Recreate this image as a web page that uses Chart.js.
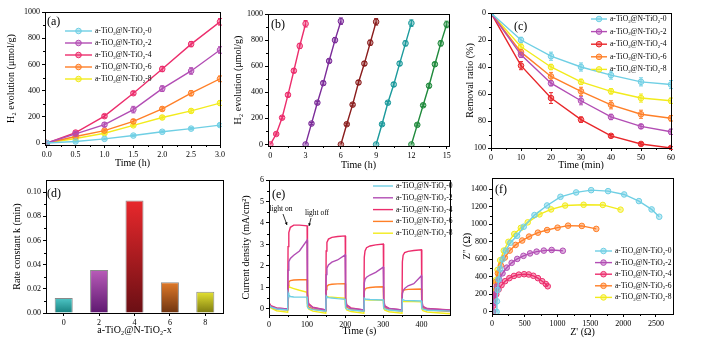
<!DOCTYPE html>
<html>
<head>
<meta charset="utf-8">
<script src="https://cdn.jsdelivr.net/npm/chart.js@4.4.1/dist/chart.umd.min.js"></script>
<style>
  body { margin: 0; background: #fff; width: 706px; height: 341px; position: relative; overflow: hidden; }
  canvas { position: absolute; }
</style>
</head>
<body>
<canvas id="pa"></canvas>
<canvas id="pb"></canvas>
<canvas id="pc"></canvas>
<canvas id="pd"></canvas>
<canvas id="pe"></canvas>
<canvas id="pf"></canvas>
<script>
// ---- data ----
const names = ['a-TiO₂@N-TiO₂-0', 'a-TiO₂@N-TiO₂-2', 'a-TiO₂@N-TiO₂-4', 'a-TiO₂@N-TiO₂-6', 'a-TiO₂@N-TiO₂-8'];

// (a) H2 evolution
const aHours = [0, 0.5, 1, 1.5, 2, 2.5, 3];
const aH2_0 = [0, 12, 32, 57, 86, 110, 137];
const aH2_2 = [0, 70, 140, 255, 415, 550, 710];
const aH2_4 = [0, 80, 205, 380, 565, 755, 925];
const aH2_6 = [0, 50, 95, 165, 260, 380, 490];
const aH2_8 = [0, 35, 75, 135, 195, 245, 305];
const aErr_0 = [0, 5, 6, 6, 7, 8, 10];
const aErr_2 = [0, 10, 15, 25, 22, 25, 25];
const aErr_4 = [0, 10, 12, 12, 20, 20, 25];
const aErr_6 = [0, 8, 10, 15, 15, 20, 22];
const aErr_8 = [0, 6, 8, 10, 12, 15, 18];
const aXTicks = [0, 0.5, 1, 1.5, 2, 2.5, 3];
const aYTicks = [0, 200, 400, 600, 800, 1000];

// (b) cycling
const bHours = [0, 0.5, 1, 1.5, 2, 2.5, 3];
const bStart = [0, 3, 6, 9, 12];
const bCycle1 = [0, 80, 205, 380, 565, 755, 925];
const bCycle2 = [0, 160, 320, 470, 640, 800, 945];
const bCycle3 = [0, 155, 305, 475, 620, 780, 940];
const bCycle4 = [0, 155, 320, 460, 620, 775, 930];
const bCycle5 = [0, 150, 300, 450, 615, 775, 920];
const bErr = [0, 8, 10, 15, 15, 20, 25];
const bXTicks = [0, 3, 6, 9, 12, 15];
const bYTicks = [0, 200, 400, 600, 800, 1000];

// (c) removal ratio
const cMinutes = [0, 10, 20, 30, 40, 50, 60];
const cRem_0 = [0, 20, 32, 40, 46, 51, 53];
const cRem_2 = [0, 31, 52, 65, 77, 84, 88];
const cRem_4 = [0, 39, 63, 79, 91, 97, 100];
const cRem_6 = [0, 29, 47, 58, 68, 75, 78];
const cRem_8 = [0, 25, 40, 51, 58, 63, 65];
const cErr_0 = [0, 2, 3, 3, 3, 3, 3];
const cErr_2 = [0, 2, 2, 3, 2, 1.5, 2];
const cErr_4 = [0, 3, 4, 2, 1, 1, 1];
const cErr_6 = [0, 2, 3, 3, 3, 3, 2];
const cErr_8 = [0, 2, 2, 2, 2, 3, 2];
const cXTicks = [0, 10, 20, 30, 40, 50, 60];
const cYTicks = [0, 20, 40, 60, 80, 100];

// (d) rate constant
const dLabels = ['0', '2', '4', '6', '8'];
const dRate = [0.0125, 0.0355, 0.093, 0.0255, 0.0175];
const dYTicks = [0, 0.02, 0.04, 0.06, 0.08, 0.10];

// (e) photocurrent
const eTime = [0, 5, 20, 49, 50, 52, 56, 65, 80, 100, 101, 104, 115, 149, 150, 152, 156, 165, 180, 200, 201, 204, 215, 249,
  250, 252, 256, 265, 280, 300, 301, 304, 315, 349, 350, 352, 356, 365, 380, 400, 401, 404, 415, 475];
const eCur_0 = [0.20, 0.08, 0.00, -0.05, 0.75, 0.65, 0.58, 0.56, 0.55, 0.55, 0.10, 0.03, -0.03, -0.10, 0.60, 0.56, 0.53, 0.51, 0.48, 0.45, 0.06, 0.00, -0.05, -0.10,
  0.50, 0.47, 0.45, 0.44, 0.43, 0.42, 0.05, 0.00, -0.05, -0.10, 0.45, 0.42, 0.40, 0.39, 0.38, 0.37, 0.04, -0.01, -0.06, -0.10];
const eCur_2 = [0.25, 0.12, 0.04, 0.00, 1.80, 2.20, 2.35, 2.50, 2.70, 3.20, 0.50, 0.20, 0.06, -0.05, 1.60, 1.90, 2.05, 2.18, 2.28, 2.52, 0.40, 0.15, 0.03, -0.05,
  1.20, 1.38, 1.48, 1.58, 1.70, 1.95, 0.35, 0.12, 0.02, -0.05, 0.70, 0.85, 0.95, 1.08, 1.18, 1.55, 0.30, 0.10, 0.01, -0.06];
const eCur_4 = [0.30, 0.15, 0.05, 0.00, 2.90, 3.55, 3.80, 3.90, 3.90, 3.87, 0.70, 0.25, 0.08, -0.05, 2.70, 3.10, 3.25, 3.33, 3.37, 3.40, 0.50, 0.20, 0.05, -0.05,
  2.40, 2.70, 2.85, 2.93, 2.98, 3.02, 0.45, 0.15, 0.03, -0.05, 2.20, 2.50, 2.62, 2.68, 2.72, 2.75, 0.40, 0.12, 0.02, -0.05];
const eCur_6 = [0.20, 0.10, 0.00, -0.05, 1.10, 1.25, 1.32, 1.35, 1.36, 1.36, 0.25, 0.10, 0.00, -0.10, 0.90, 1.05, 1.12, 1.15, 1.17, 1.18, 0.20, 0.08, -0.02, -0.10,
  0.80, 0.92, 0.97, 1.00, 1.02, 1.03, 0.18, 0.06, -0.03, -0.10, 0.75, 0.85, 0.89, 0.91, 0.92, 0.93, 0.15, 0.05, -0.04, -0.12];
const eCur_8 = [0.30, 0.05, -0.08, -0.15, 1.10, 1.05, 1.00, 0.95, 0.87, 0.78, 0.10, 0.00, -0.10, -0.20, 0.60, 0.58, 0.56, 0.55, 0.53, 0.50, 0.05, -0.05, -0.12, -0.20,
  0.45, 0.44, 0.43, 0.42, 0.41, 0.40, 0.02, -0.06, -0.13, -0.20, 0.36, 0.35, 0.35, 0.34, 0.34, 0.33, 0.00, -0.08, -0.14, -0.22];
const eXTicks = [0, 100, 200, 300, 400];
const eYTicks = [0, 1, 2, 3, 4, 5, 6];

// (f) Nyquist
const fRe_0 = [70, 75, 85, 100, 125, 160, 210, 280, 382, 484, 648, 840, 1044, 1283, 1512, 1770, 2015, 2240, 2434, 2550];
const fIm_0 = [0, 120, 250, 370, 490, 600, 700, 790, 870, 973, 1106, 1216, 1315, 1365, 1391, 1380, 1342, 1266, 1171, 1087];
const fRe_2 = [10, 22, 40, 70, 110, 160, 225, 300, 385, 480, 580, 680, 790, 910, 1080];
const fIm_2 = [0, 100, 200, 290, 370, 440, 505, 560, 605, 640, 668, 688, 700, 707, 698];
const fRe_4 = [10, 20, 38, 65, 100, 145, 200, 265, 335, 410, 490, 560, 630, 700, 765, 820, 850];
const fIm_4 = [0, 70, 140, 200, 255, 305, 350, 385, 410, 425, 430, 427, 412, 385, 350, 318, 292];
const fRe_6 = [10, 18, 32, 55, 90, 135, 195, 270, 360, 460, 565, 700, 840, 1000, 1160, 1370, 1590];
const fIm_6 = [0, 120, 230, 340, 440, 530, 620, 700, 765, 815, 860, 905, 935, 962, 985, 982, 948];
const fRe_8 = [15, 22, 35, 55, 85, 125, 180, 250, 340, 440, 545, 724, 901, 1115, 1397, 1690, 1960];
const fIm_8 = [0, 120, 240, 360, 480, 590, 700, 800, 890, 960, 1023, 1114, 1171, 1215, 1224, 1222, 1168];
const fXTicks = [0, 500, 1000, 1500, 2000, 2500];
const fYTicks = [0, 200, 400, 600, 800, 1000, 1200, 1400];

// ---- style ----
const SERIF = "'Liberation Serif', 'Times New Roman', serif";
const C_CYAN = '#6fcfe4', C_PURPLE = '#b24db4', C_PINK = '#ec2d6c', C_RED = '#e8262a', C_ORANGE = '#ff7f27', C_YELLOW = '#f2eb1c';
const TICK_SIZE = 8, TITLE_SIZE = 10, LEGEND_SIZE = 7.6;

function pts(xs, ys) { return xs.map((x, i) => ({ x: x, y: ys[i] })); }

function fade(hex, a) {
  const n = parseInt(hex.slice(1), 16);
  return `rgba(${n >> 16},${(n >> 8) & 255},${n & 255},${a})`;
}

// text with small lowered "2" for the subscript character
function richText(ctx, text, x, y, size) {
  for (const ch of text) {
    if (ch === '₂') {
      ctx.font = (size * 0.65) + 'px ' + SERIF;
      ctx.fillText('2', x, y + size * 0.3);
      x += ctx.measureText('2').width;
    } else {
      ctx.font = size + 'px ' + SERIF;
      ctx.fillText(ch, x, y);
      x += ctx.measureText(ch).width;
    }
  }
}

function lineSet(label, color, data, extra) {
  return Object.assign({
    label: label, data: data, showLine: true, borderColor: color, backgroundColor: fade(color, 0.45),
    borderWidth: 1.4, pointRadius: 2.8, pointBorderWidth: 1, pointBorderColor: color, tension: 0
  }, extra || {});
}

function scale(pos, o) {
  const ticks = { color: '#000', font: { family: SERIF, size: TICK_SIZE }, padding: 2, maxRotation: 0, autoSkip: false };
  if (o.type !== 'category') ticks.callback = o.fmt ? (v => o.fmt(v)) : (v => String(v));
  const s = {
    type: o.type || 'linear', position: pos, reverse: !!o.reverse, offset: !!o.offset,
    minor: o.minor !== false,
    border: { color: '#000', width: 1 },
    grid: { drawOnChartArea: false, color: '#000', tickLength: 3, tickWidth: 1, offset: false },
    ticks: ticks,
    title: { display: true, text: o.title, color: '#000', font: { family: SERIF, size: TITLE_SIZE }, padding: 0 }
  };
  if (o.min !== undefined) s.min = o.min;
  if (o.max !== undefined) s.max = o.max;
  if (o.ticks) s.afterBuildTicks = sc => { sc.ticks = o.ticks.map(v => ({ value: v })); };
  return s;
}

// frame, minor ticks, panel label
const framePlugin = {
  id: 'frame',
  afterDraw(chart, args, opts) {
    const a = chart.chartArea, ctx = chart.ctx;
    ctx.save();
    ctx.strokeStyle = '#000'; ctx.lineWidth = 1;
    ctx.strokeRect(Math.round(a.left) + 0.5, Math.round(a.top) + 0.5, Math.round(a.right - a.left), Math.round(a.bottom - a.top));
    // minor ticks
    Object.values(chart.scales).forEach(s => {
      if (s.type !== 'linear' || !s.options.minor) return;
      const t = s.ticks.map(k => k.value);
      ctx.beginPath();
      for (let i = 0; i < t.length - 1; i++) {
        const p = Math.round(s.getPixelForValue((t[i] + t[i + 1]) / 2)) + 0.5;
        if (s.isHorizontal()) { ctx.moveTo(p, a.bottom); ctx.lineTo(p, a.bottom + 2); }
        else { ctx.moveTo(a.left, p); ctx.lineTo(a.left - 2, p); }
      }
      ctx.stroke();
    });
    if (opts.label) {
      ctx.fillStyle = '#000';
      ctx.font = '12px ' + SERIF;
      ctx.textBaseline = 'alphabetic';
      ctx.fillText(opts.label, a.left + opts.lx, a.top + opts.ly);
    }
    ctx.restore();
  }
};

const errorPlugin = {
  id: 'errbars',
  beforeDatasetsDraw(chart) {
    const ctx = chart.ctx;
    chart.data.datasets.forEach((ds, i) => {
      if (!ds.errors) return;
      const meta = chart.getDatasetMeta(i);
      const ys = chart.scales[meta.yAxisID];
      ctx.save();
      ctx.strokeStyle = ds.borderColor; ctx.lineWidth = 1;
      meta.data.forEach((pt, j) => {
        const e = ds.errors[j];
        if (!e) return;
        const v = ds.data[j].y;
        const y1 = ys.getPixelForValue(v - e), y2 = ys.getPixelForValue(v + e);
        ctx.beginPath();
        ctx.moveTo(pt.x, y1); ctx.lineTo(pt.x, y2);
        ctx.moveTo(pt.x - 2, y1); ctx.lineTo(pt.x + 2, y1);
        ctx.moveTo(pt.x - 2, y2); ctx.lineTo(pt.x + 2, y2);
        ctx.stroke();
      });
      ctx.restore();
    });
  }
};

const legendPlugin = {
  id: 'inlegend',
  afterDraw(chart, args, opts) {
    if (opts.x === undefined) return;
    const a = chart.chartArea, ctx = chart.ctx;
    ctx.save();
    ctx.textBaseline = 'middle';
    chart.data.datasets.forEach((ds, i) => {
      const y = a.top + opts.y + i * opts.dy;
      const x0 = a.left + opts.x, x1 = x0 + opts.len;
      ctx.strokeStyle = ds.borderColor; ctx.lineWidth = 1.4;
      ctx.beginPath(); ctx.moveTo(x0, y); ctx.lineTo(x1, y); ctx.stroke();
      if (opts.marker) {
        ctx.fillStyle = ds.backgroundColor; ctx.lineWidth = 1;
        ctx.beginPath(); ctx.arc((x0 + x1) / 2, y, 2.8, 0, Math.PI * 2); ctx.fill(); ctx.stroke();
      }
      ctx.fillStyle = '#000';
      richText(ctx, ds.label, x1 + 3, y, LEGEND_SIZE);
    });
    ctx.restore();
  }
};

const annotePlugin = {
  id: 'lightNotes',
  afterDraw(chart, args, opts) {
    if (!opts.on) return;
    const a = chart.chartArea, ctx = chart.ctx;
    ctx.save();
    ctx.fillStyle = '#000'; ctx.strokeStyle = '#000'; ctx.lineWidth = 0.8;
    ctx.font = '7.5px ' + SERIF; ctx.textAlign = 'center'; ctx.textBaseline = 'middle';
    ctx.fillText('light on', a.left + 12, a.top + 29);
    ctx.fillText('light off', a.left + 48, a.top + 33);
    const arrow = (x0, y0, x1, y1) => {
      ctx.beginPath(); ctx.moveTo(a.left + x0, a.top + y0); ctx.lineTo(a.left + x1, a.top + y1); ctx.stroke();
      const ang = Math.atan2(y1 - y0, x1 - x0);
      ctx.beginPath();
      ctx.moveTo(a.left + x1, a.top + y1);
      ctx.lineTo(a.left + x1 - 3 * Math.cos(ang - 0.5), a.top + y1 - 3 * Math.sin(ang - 0.5));
      ctx.lineTo(a.left + x1 - 3 * Math.cos(ang + 0.5), a.top + y1 - 3 * Math.sin(ang + 0.5));
      ctx.closePath(); ctx.fill();
    };
    arrow(14, 34, 18, 45);
    arrow(42, 38, 40, 46);
    ctx.restore();
  }
};

Chart.register(framePlugin, errorPlugin, legendPlugin, annotePlugin);

function panel(id, box, type, data, scales, plugins) {
  const lh = TITLE_SIZE * 1.2;
  const left = Math.round(box.yTitleX - lh / 2);
  const top = box.T - 10;
  const right = box.R + 14;
  const bottom = Math.round(box.xTitleY + lh / 2);
  const cv = document.getElementById(id);
  cv.width = right - left; cv.height = bottom - top;
  cv.style.left = left + 'px'; cv.style.top = top + 'px';
  scales.y.afterFit = s => { s.width = box.L - left; };
  scales.x.afterFit = s => { s.height = bottom - box.B; };
  return new Chart(cv, {
    type: type,
    data: data,
    options: {
      responsive: false, animation: false, devicePixelRatio: 1,
      layout: { padding: { left: 0, top: 10, right: 14, bottom: 0 } },
      scales: scales,
      plugins: Object.assign({ legend: { display: false }, tooltip: { enabled: false } }, plugins)
    }
  });
}

// (a)
panel('pa', { L: 45, T: 12, R: 220, B: 145, yTitleX: 11, xTitleY: 163 }, 'scatter', {
  datasets: [
    lineSet(names[0], C_CYAN, pts(aHours, aH2_0), { errors: aErr_0 }),
    lineSet(names[1], C_PURPLE, pts(aHours, aH2_2), { errors: aErr_2 }),
    lineSet(names[2], C_PINK, pts(aHours, aH2_4), { errors: aErr_4 }),
    lineSet(names[3], C_ORANGE, pts(aHours, aH2_6), { errors: aErr_6 }),
    lineSet(names[4], C_YELLOW, pts(aHours, aH2_8), { errors: aErr_8 })
  ]
}, {
  x: scale('bottom', { min: -0.03, max: 3.0, ticks: aXTicks, fmt: v => v.toFixed(1), title: 'Time (h)' }),
  y: scale('left', { min: -15, max: 1000, ticks: aYTicks, title: 'H₂ evolution (μmol/g)' })
}, {
  frame: { label: '(a)', lx: 2, ly: 13 },
  inlegend: { x: 20, y: 19, dy: 12, len: 27, marker: true }
});

// (b)
const bColors = [C_PINK, '#7b2b99', '#8a1c1c', '#1b9a9c', '#1f8a3c'];
const bCycles = [bCycle1, bCycle2, bCycle3, bCycle4, bCycle5];
panel('pb', { L: 268, T: 14, R: 449, B: 146, yTitleX: 238, xTitleY: 165 }, 'scatter', {
  datasets: bCycles.map((c, k) => lineSet('cycle ' + (k + 1), bColors[k],
    pts(bHours.map(h => bStart[k] + h), c), { errors: bErr }))
}, {
  x: scale('bottom', { min: -0.2, max: 15.2, ticks: bXTicks, title: 'Time (h)' }),
  y: scale('left', { min: -12, max: 1000, ticks: bYTicks, title: 'H₂ evolution (μmol/g)' })
}, {
  frame: { label: '(b)', lx: 3, ly: 14 }
});

// (c)
panel('pc', { L: 491, T: 13, R: 671, B: 148, yTitleX: 470, xTitleY: 165 }, 'scatter', {
  datasets: [
    lineSet(names[0], C_CYAN, pts(cMinutes, cRem_0), { errors: cErr_0 }),
    lineSet(names[1], C_PURPLE, pts(cMinutes, cRem_2), { errors: cErr_2 }),
    lineSet(names[2], C_RED, pts(cMinutes, cRem_4), { errors: cErr_4 }),
    lineSet(names[3], C_ORANGE, pts(cMinutes, cRem_6), { errors: cErr_6 }),
    lineSet(names[4], C_YELLOW, pts(cMinutes, cRem_8), { errors: cErr_8 })
  ]
}, {
  x: scale('bottom', { min: 0, max: 60, ticks: cXTicks, title: 'Time (min)' }),
  y: scale('left', { min: 0, max: 100, reverse: true, ticks: cYTicks, title: 'Removal ratio (%)' })
}, {
  frame: { label: '(c)', lx: 23, ly: 17 },
  inlegend: { x: 100, y: 6, dy: 12.6, len: 16, marker: true }
});

// (d)
const dTop = ['#4fc7c7', '#b85cb8', '#e8282c', '#e07a2a', '#e4e232'];
const dBottom = ['#17807f', '#5e1870', '#6a0f14', '#6e3410', '#7c7a10'];
panel('pd', { L: 46, T: 180, R: 223, B: 313, yTitleX: 17, xTitleY: 330 }, 'bar', {
  labels: dLabels,
  datasets: [{
    label: 'k', data: dRate, borderColor: '#8a8a8a', borderWidth: 1,
    barPercentage: 0.51, categoryPercentage: 1,
    backgroundColor: ctx => {
      const ch = ctx.chart, i = ctx.dataIndex;
      if (!ch.chartArea || !ch.scales.y) return dTop[i];
      const yTop = ch.scales.y.getPixelForValue(dRate[i]);
      const g = ch.ctx.createLinearGradient(0, yTop, 0, ch.chartArea.bottom);
      g.addColorStop(0, dTop[i]); g.addColorStop(1, dBottom[i]);
      return g;
    }
  }]
}, {
  x: scale('bottom', { type: 'category', offset: true, minor: false, title: 'a-TiO₂@N-TiO₂-x' }),
  y: scale('left', { min: 0, max: 0.11, ticks: dYTicks, fmt: v => v.toFixed(2), title: 'Rate constant k (min)' })
}, {
  frame: { label: '(d)', lx: 1, ly: 17 }
});

// (e)
const eNoMark = { pointRadius: 0, borderWidth: 1.4 };
panel('pe', { L: 269, T: 180, R: 450, B: 315, yTitleX: 246, xTitleY: 331 }, 'scatter', {
  datasets: [
    lineSet(names[0], C_CYAN, pts(eTime, eCur_0), eNoMark),
    lineSet(names[1], C_PURPLE, pts(eTime, eCur_2), eNoMark),
    lineSet(names[2], C_PINK, pts(eTime, eCur_4), eNoMark),
    lineSet(names[3], C_ORANGE, pts(eTime, eCur_6), eNoMark),
    lineSet(names[4], C_YELLOW, pts(eTime, eCur_8), eNoMark)
  ]
}, {
  x: scale('bottom', { min: 0, max: 475, ticks: eXTicks, title: 'Time (s)' }),
  y: scale('left', { min: -0.28, max: 6, ticks: eYTicks, title: 'Current density (mA/cm²)' })
}, {
  frame: { label: '(e)', lx: 3, ly: 18 },
  inlegend: { x: 104, y: 6, dy: 11.8, len: 20, marker: false },
  lightNotes: { on: true }
});

// (f)
panel('pf', { L: 492, T: 178, R: 673, B: 314, yTitleX: 467, xTitleY: 332 }, 'scatter', {
  datasets: [
    lineSet(names[0], C_CYAN, pts(fRe_0, fIm_0)),
    lineSet(names[1], C_PURPLE, pts(fRe_2, fIm_2)),
    lineSet(names[2], C_PINK, pts(fRe_4, fIm_4)),
    lineSet(names[3], C_ORANGE, pts(fRe_6, fIm_6)),
    lineSet(names[4], C_YELLOW, pts(fRe_8, fIm_8))
  ]
}, {
  x: scale('bottom', { min: 0, max: 2760, ticks: fXTicks, title: "Z' (Ω)" }),
  y: scale('left', { min: -25, max: 1530, ticks: fYTicks, title: "Z'' (Ω)" })
}, {
  frame: { label: '(f)', lx: 3, ly: 15 },
  inlegend: { x: 103, y: 73, dy: 11.6, len: 17, marker: true }
});
</script>
</body>
</html>
